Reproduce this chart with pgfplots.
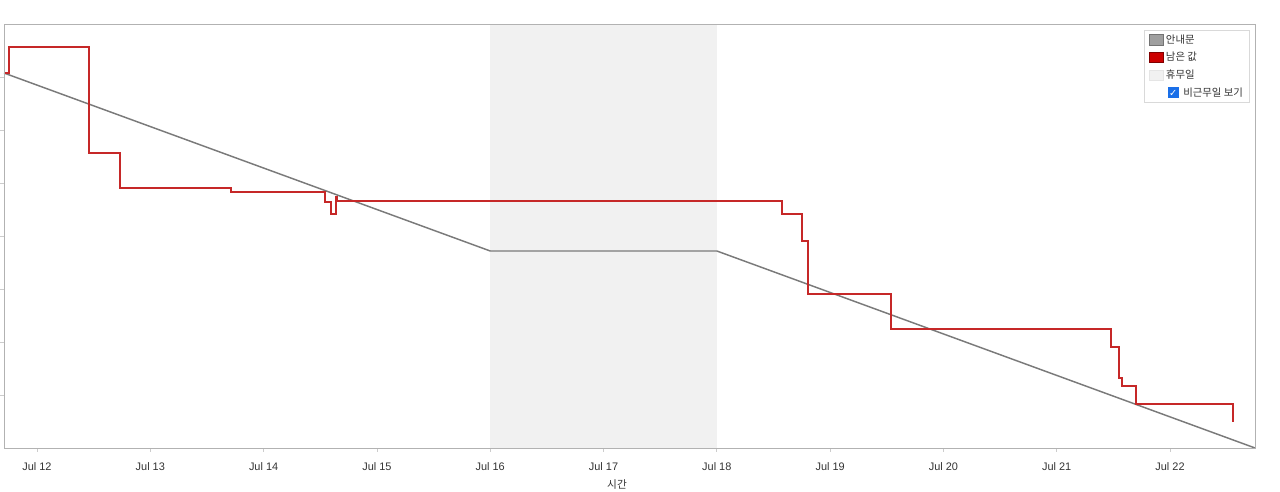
\documentclass[border=0pt]{standalone}
\usepackage{pgfplots}
\pgfplotsset{compat=1.18}
\usepackage{fontspec}
\setmainfont{Liberation Sans}
\newfontfamily\kr{Noto Sans CJK KR}
\newfontfamily\dejavu{DejaVu Sans}
\definecolor{redline}{HTML}{C62828}
\definecolor{guide}{HTML}{7A7A7A}
\definecolor{shade}{HTML}{F1F1F1}
\definecolor{cbblue}{HTML}{1A6FE8}
\definecolor{txt}{HTML}{333333}
\newcommand\cbox{\raisebox{-1.2pt}{\setlength{\fboxsep}{0pt}\colorbox{cbblue}{\makebox[8pt]{\rule{0pt}{8pt}\raisebox{1.3pt}{\textcolor{white}{\dejavu\fontsize{7.3}{7.3}\selectfont ✓}}}}}}
\begin{document}
\begin{tikzpicture}
\begin{axis}[
  scale only axis, width=938.25pt, height=318pt,
  xmin=-0.2913, xmax=10.75, ymin=0, ymax=8,
  axis on top,
  xtick={0,1,2,3,4,5,6,7,8,9,10},
  xticklabels={Jul 12,Jul 13,Jul 14,Jul 15,Jul 16,Jul 17,Jul 18,Jul 19,Jul 20,Jul 21,Jul 22},
  ytick={1,2,3,4,5,6,7}, yticklabels={},
  tick pos=left, tick align=outside, major tick length=3pt,
  tick style={draw=gray!40, line width=0.6pt},
  axis line style={draw=gray!60, line width=0.6pt},
  /pgf/number format/assume math mode=true,
  xticklabel style={font=\fontsize{8.2}{9}\selectfont, text=txt, anchor=center, yshift=-10.9pt},
  xlabel={시간},
  xlabel style={at={(axis description cs:0.49,0)}, anchor=center, yshift=-27.75pt, font=\kr\fontsize{8}{9}\selectfont, text=txt},
  legend image code/.code={\draw[#1] (0pt,-3.8pt) rectangle (10.5pt,3.8pt);},
  legend style={at={(0.996,0.986)}, anchor=north east, draw=gray!30, line width=0.5pt,
    font=\kr\fontsize{7.8}{9.5}\selectfont, text=txt, cells={anchor=west},
    inner xsep=3pt, inner ysep=1.2pt, row sep=1.2pt},
]
\addlegendimage{fill=gray!75, draw=gray!90!black, line width=0.5pt}
\addlegendentry{안내문}
\addlegendimage{fill=red!80!black, draw=red!50!black, line width=0.5pt}
\addlegendentry{남은 값}
\addlegendimage{fill=shade, draw=gray!20, line width=0.5pt}
\addlegendentry{휴무일}
\addlegendimage{empty legend}
\addlegendentry{\hspace{1.5pt}\cbox\hspace{3.5pt}비근무일 보기}

\addplot[fill=shade, draw=none, forget plot] coordinates {(4,8) (6,8)} \closedcycle;

\addplot[guide, line width=1.1pt, forget plot] coordinates {(-0.2913,7.075) (4,3.717) (6,3.717) (10.75,0)};

\addplot[redline, line width=1.5pt, line join=miter, forget plot] coordinates {
(-0.2913,7.075) (-0.247,7.075) (-0.247,7.572) (0.459,7.572) (0.459,5.572) (0.733,5.572)
(0.733,4.911) (1.712,4.911) (1.712,4.836) (2.542,4.836) (2.542,4.636) (2.595,4.636)
(2.595,4.409) (2.636,4.409) (2.636,4.745) (2.652,4.745) (2.652,4.660) (6.571,4.660)
(6.571,4.415) (6.755,4.415) (6.755,3.906) (6.808,3.906) (6.808,2.911) (7.537,2.911)
(7.537,2.245) (9.477,2.245) (9.477,1.911) (9.547,1.911) (9.547,1.326) (9.579,1.326)
(9.579,1.170) (9.700,1.170) (9.700,0.830) (10.559,0.830) (10.559,0.496)};
\end{axis}
\pgfresetboundingbox
\path[use as bounding box] ([xshift=-3pt,yshift=-33pt]current axis.south west) rectangle ([xshift=18.75pt,yshift=18pt]current axis.north east);
\end{tikzpicture}
\end{document}
